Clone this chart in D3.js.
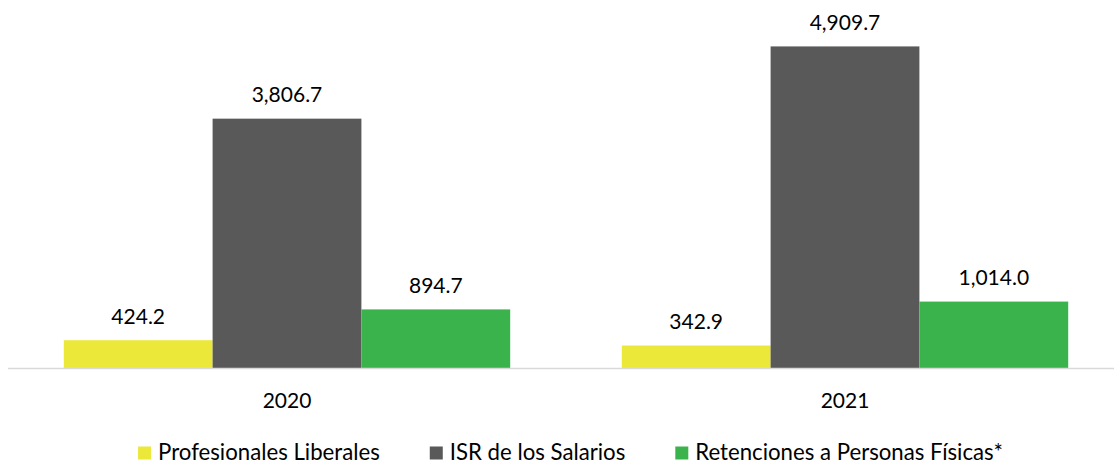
<!DOCTYPE html>
<html>
<head>
<meta charset="utf-8">
<script src="https://cdn.jsdelivr.net/npm/d3@7"></script>
<style>
  body { margin: 0; background: #fff; }
  text { font-family: Lato, "Noto Sans", sans-serif; fill: #000; }
</style>
</head>
<body>
<div id="chart"></div>
<script>
// Data
var years = ["2020", "2021"];
var seriesNames = ["Profesionales Liberales", "ISR de los Salarios", "Retenciones a Personas Físicas*"];
var profesionales = [424.2, 342.9];
var salarios = [3806.7, 4909.7];
var retenciones = [894.7, 1014.0];
var colors = ["#ebe83a", "#595959", "#3bb34d"];

var W = 1114, H = 466;
var svg = d3.select("#chart").append("svg")
    .attr("width", W)
    .attr("height", H);

// Scales
var x0 = d3.scaleBand()
    .domain(years)
    .range([8, 1124])
    .paddingInner(0.2)
    .paddingOuter(0.1);

var x1 = d3.scaleBand()
    .domain(seriesNames)
    .range([0, x0.bandwidth()]);

var y = d3.scaleLinear()
    .domain([0, 5000])
    .range([368, 40.5]);

var seriesValues = [profesionales, salarios, retenciones];

// Bars + labels
var groups = svg.selectAll("g.year")
    .data(years)
    .enter()
    .append("g")
    .attr("class", "year")
    .attr("transform", function(d) { return "translate(" + x0(d) + ",0)"; });

groups.each(function(yr, i) {
    var rows = seriesNames.map(function(s, k) {
        return { name: s, value: seriesValues[k][i], color: colors[k] };
    });
    var g = d3.select(this);
    g.selectAll("rect")
        .data(rows)
        .enter()
        .append("rect")
        .attr("x", function(d) { return x1(d.name); })
        .attr("y", function(d) { return y(d.value); })
        .attr("width", x1.bandwidth())
        .attr("height", function(d) { return y(0) - y(d.value); })
        .attr("fill", function(d) { return d.color; });

    g.selectAll("text.lbl")
        .data(rows)
        .enter()
        .append("text")
        .attr("class", "lbl")
        .attr("x", function(d) { return x1(d.name) + x1.bandwidth() / 2; })
        .attr("y", function(d) { return y(d.value) - 16.5; })
        .attr("text-anchor", "middle")
        .style("font-size", "21px")
        .text(function(d) { return d3.format(",.1f")(d.value); });
});

// X axis
var xAxis = svg.append("g")
    .attr("transform", "translate(0," + y(0) + ")")
    .call(d3.axisBottom(x0).tickSize(0).tickPadding(0));
xAxis.select(".domain").remove();
xAxis.append("line")
    .attr("x1", 8).attr("x2", W)
    .attr("y1", 0.5).attr("y2", 0.5)
    .attr("stroke", "#d9d9d9")
    .attr("stroke-width", 1.5);
xAxis.selectAll(".tick text")
    .attr("y", 40)
    .attr("dy", 0)
    .style("font-size", "21px")
    .style("font-family", "Lato, 'Noto Sans', sans-serif")
    .attr("fill", "#000");

// Legend
var legend = svg.append("g").attr("class", "legend");
var items = legend.selectAll("g")
    .data(seriesNames)
    .enter()
    .append("g");
items.append("rect")
    .attr("width", 13).attr("height", 13)
    .attr("y", 446.5)
    .attr("fill", function(d, i) { return colors[i]; });
items.append("text")
    .attr("x", 20)
    .attr("y", 460)
    .style("font-size", "22.2px")
    .text(function(d) { return d; });

var pos = 0, gap = 50;
items.each(function() {
    var w = d3.select(this).select("text").node().getComputedTextLength() + 20;
    d3.select(this).attr("data-w", w);
});
var total = 0;
items.each(function(d, i) { total += +d3.select(this).attr("data-w") + (i > 0 ? gap : 0); });
pos = 570.5 - total / 2;
items.each(function() {
    d3.select(this).attr("transform", "translate(" + pos + ",0)");
    pos += +d3.select(this).attr("data-w") + gap;
});
</script>
</body>
</html>
